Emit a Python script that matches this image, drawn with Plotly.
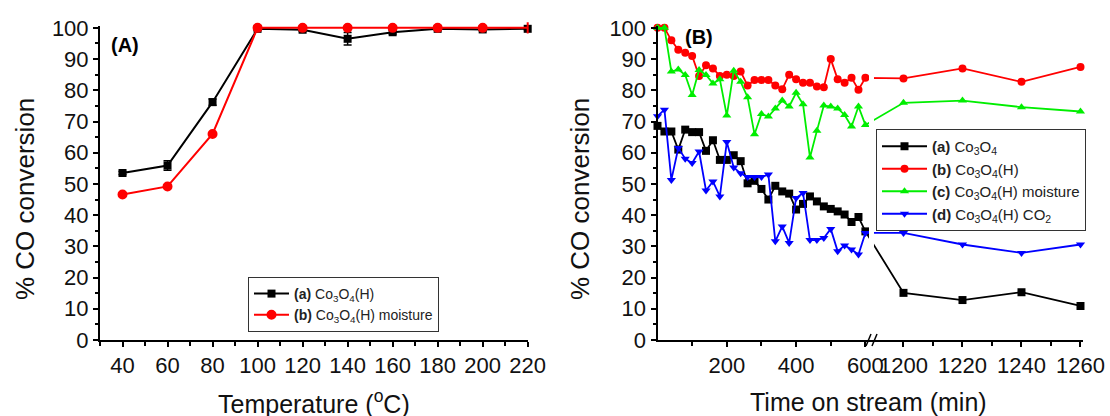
import plotly.graph_objects as go

# ---------------- data ----------------
# Panel A: light-off curves
temp_A = [40, 60, 80, 100, 120, 140, 160, 180, 200, 220]
conv_A_a = [53.5, 55.9, 76.2, 99.7, 99.4, 96.5, 98.6, 99.7, 99.5, 99.7]
err_A_a = [0.5, 1.5, 1.0, 0.4, 0.6, 2.0, 0.6, 0.3, 0.4, 0.3]
conv_A_b = [46.6, 49.2, 66.0, 100, 100, 100, 100, 100, 100, 100]

# Panel B: stability tests (time on stream, min)
time_B = [0, 20, 40, 60, 80, 100, 120, 140, 160, 180, 200, 220, 240, 260, 280,
          300, 320, 340, 360, 380, 400, 420, 440, 460, 480, 500, 520, 540, 560,
          580, 600, 1200, 1220, 1240, 1260]
conv_B_a = [68.6, 66.8, 66.8, 61.0, 67.4, 66.6, 66.6, 60.6, 64.0, 57.7, 57.7,
            59.2, 57.3, 50.2, 51.0, 48.4, 45.0, 49.4, 47.6, 46.9, 41.8, 43.6,
            46.0, 44.4, 42.8, 42.0, 41.2, 40.2, 37.8, 39.4, 34.8,
            15.1, 12.8, 15.3, 10.9]
conv_B_b = [100, 100, 96.0, 93.0, 92.0, 91.0, 84.6, 88.0, 87.0, 84.6, 85.0,
            84.6, 86.0, 81.5, 83.3, 83.3, 83.3, 81.5, 80.3, 85.0, 83.5, 82.4,
            82.4, 81.2, 81.0, 90.0, 83.5, 82.4, 84.0, 80.2, 84.0,
            83.8, 87.0, 82.7, 87.5]
conv_B_c = [100, 100, 86.0, 86.7, 84.9, 78.5, 86.5, 84.9, 82.2, 83.5, 71.9,
            86.3, 82.7, 77.8, 65.9, 72.4, 71.6, 74.2, 76.7, 74.8, 79.2, 75.5,
            58.5, 67.0, 75.1, 74.8, 74.2, 72.1, 68.4, 74.8, 68.9,
            76.0, 76.7, 74.6, 73.2]
conv_B_d = [71.7, 73.8, 51.3, 61.5, 58.1, 56.7, 60.4, 47.9, 50.8, 46.0, 63.4,
            55.3, 53.4, 52.2, 52.2, 52.2, 53.0, 31.6, 36.4, 31.1, 45.5, 47.1,
            32.0, 32.0, 32.7, 35.6, 28.4, 30.3, 29.0, 27.4, 34.3,
            34.3, 30.6, 27.9, 30.6]

xticks_A = [40, 60, 80, 100, 120, 140, 160, 180, 200, 220]
xticks_B = [200, 400, 600, 1200, 1220, 1240, 1260]
xminor_B = [100, 300, 500, 1210, 1230, 1250]
yticks = [0, 10, 20, 30, 40, 50, 60, 70, 80, 90, 100]

# ---------------- broken-axis scale for panel B ----------------
# left segment 0..~610 min, right segment 1190..1261 min (expanded scale)
L_PX_PER_MIN = 0.3465
R_PX_PER_MIN = 2.95
R_START_T = 1190.0
R_START_U = 624.8
L_END_U = 610.4


def brk(t):
    if t <= 900:
        return t
    return R_START_U + (t - R_START_T) * R_PX_PER_MIN / L_PX_PER_MIN


u_B = [brk(t) for t in time_B]
u_max = brk(1261)

FONT = "Liberation Sans, Arial, sans-serif"
W, H = 1110, 416

fig = go.Figure()

# Panel A traces
fig.add_trace(go.Scatter(
    x=temp_A, y=conv_A_a, mode="lines+markers",
    name="<b>(a)</b> Co<sub>3</sub>O<sub>4</sub>(H)",
    line=dict(color="black", width=2),
    marker=dict(symbol="square", size=8, color="black"),
    error_y=dict(type="data", array=err_A_a, color="black", thickness=1.5, width=4),
    xaxis="x", yaxis="y", legend="legend", cliponaxis=False))
fig.add_trace(go.Scatter(
    x=temp_A, y=conv_A_b, mode="lines+markers",
    name="<b>(b)</b> Co<sub>3</sub>O<sub>4</sub>(H) moisture",
    line=dict(color="#ff0000", width=2),
    marker=dict(symbol=["circle"] * 9 + ["line-ns"], size=8, color="#ff0000",
                line=dict(color="#ff0000", width=2)),
    xaxis="x", yaxis="y", legend="legend", cliponaxis=False))

# Panel B traces
series_B = [
    ("<b>(a)</b> Co<sub>3</sub>O<sub>4</sub>", conv_B_a, "#000000", "square"),
    ("<b>(b)</b> Co<sub>3</sub>O<sub>4</sub>(H)", conv_B_b, "#ff0000", "circle"),
    ("<b>(c)</b> Co<sub>3</sub>O<sub>4</sub>(H) moisture", conv_B_c, "#00ee00", "triangle-up"),
    ("<b>(d)</b> Co<sub>3</sub>O<sub>4</sub>(H) CO<sub>2</sub>", conv_B_d, "#0000ff", "triangle-down"),
]
for name, vals, col, sym in series_B:
    fig.add_trace(go.Scatter(
        x=u_B, y=vals, mode="lines+markers", name=name,
        line=dict(color=col, width=1.8),
        marker=dict(symbol=sym, size=8, color=col),
        xaxis="x2", yaxis="y2", legend="legend2", cliponaxis=False))

y_dom = [1 - 340 / H, 1 - 26 / H]
tickfont = dict(family=FONT, size=22, color="#111")
common_y = dict(range=[0, 100.6], tickmode="array", tickvals=yticks,
                ticks="outside", ticklen=5, tickwidth=1.5, tickcolor="black",
                showline=True, linecolor="black", linewidth=2, automargin=False,
                showgrid=False, zeroline=False, tickfont=tickfont, tickangle=0,
                minor=dict(dtick=5, tick0=0, ticks="outside", ticklen=3,
                           tickwidth=1.5, tickcolor="black"))

fig.update_layout(
    width=W, height=H, autosize=False,
    margin=dict(l=0, r=0, t=0, b=0, pad=0, autoexpand=False),
    paper_bgcolor="white", plot_bgcolor="white",
    font=dict(family=FONT, color="black"),
    xaxis=dict(domain=[100 / W, 527.7 / W], range=[30, 220], anchor="y",
               tickmode="array", tickvals=xticks_A, tickangle=0, automargin=False,
               ticks="outside", ticklen=5, tickwidth=1.5, tickcolor="black",
               showline=True, linecolor="black", linewidth=2,
               showgrid=False, zeroline=False, tickfont=tickfont,
               minor=dict(dtick=10, tick0=30, ticks="outside", ticklen=4,
                          tickwidth=1.5, tickcolor="black")),
    yaxis=dict(domain=y_dom, anchor="x", **common_y),
    xaxis2=dict(domain=[657.5 / W, (657.5 + u_max * L_PX_PER_MIN) / W],
                range=[0, u_max], anchor="y2", tickangle=0, automargin=False,
                tickmode="array", tickvals=[brk(t) for t in xticks_B],
                ticktext=[str(t) for t in xticks_B],
                ticks="outside", ticklen=5, tickwidth=1.5, tickcolor="black",
                showline=True, linecolor="black", linewidth=2,
                showgrid=False, zeroline=False, tickfont=tickfont,
                minor=dict(tickvals=[brk(t) for t in xminor_B], ticks="outside",
                           ticklen=4, tickwidth=1.5, tickcolor="black")),
    yaxis2=dict(domain=y_dom, anchor="x2", **common_y),
    legend=dict(x=248 / W, y=1 - 277 / H, xanchor="left", yanchor="top",
                bgcolor="white", bordercolor="#333", borderwidth=1,
                font=dict(family=FONT, size=14, color="#222"),
                itemwidth=35, tracegroupgap=0),
    legend2=dict(x=876 / W, y=1 - 129 / H, xanchor="left", yanchor="top",
                 bgcolor="white", bordercolor="#333", borderwidth=1,
                 font=dict(family=FONT, size=15, color="#222"),
                 itemwidth=45, tracegroupgap=0),
    showlegend=True,
)

# break gap and '//' marks on panel B
fig.add_shape(type="rect", xref="x2", yref="y2", x0=L_END_U, x1=R_START_U,
              y0=1.0, y1=100.6, fillcolor="white", line=dict(width=0), layer="above")
for dx in (0, 6):
    fig.add_shape(type="line", xref="paper", yref="paper",
                  x0=(866 + dx) / W, y0=1 - 346 / H, x1=(871 + dx) / W, y1=1 - 334 / H,
                  line=dict(color="black", width=1.5), layer="above")


def label(x, y, text, size, angle=0, color="black"):
    fig.add_annotation(x=x / W, y=1 - y / H, xref="paper", yref="paper", text=text,
                       xanchor="center", yanchor="middle", textangle=angle,
                       showarrow=False, font=dict(family=FONT, size=size, color=color))


# panel labels and axis titles
label(125, 45, "<b>(A)</b>", 20)
label(699, 37, "<b>(B)</b>", 20)
label(314, 402, "Temperature (<sup>o</sup>C)", 25, color="#111")
label(868, 402, "Time on stream (min)", 25, color="#111")
label(25, 199, "% CO conversion", 26, angle=-90, color="#111")
label(580, 199, "% CO conversion", 26, angle=-90, color="#111")

fig.write_html("out.html")
